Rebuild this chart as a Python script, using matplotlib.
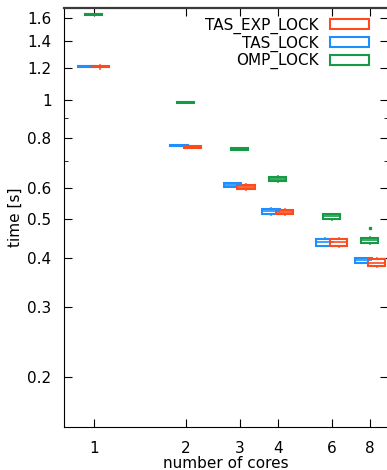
import numpy as np
import matplotlib.pyplot as plt
from matplotlib.patches import Patch
from matplotlib.ticker import FixedLocator, FixedFormatter, NullLocator

cores = [1, 2, 3, 4, 6, 8]
labels = ['TAS_EXP_LOCK', 'TAS_LOCK', 'OMP_LOCK']
colors = ['#ff4a1c', '#1e8fff', '#179a45']

# box statistics per lock type, one entry per core count (seconds)
exp_med = [1.213, 0.760, 0.602, 0.520, 0.437, 0.389]
exp_q1 = [1.209, 0.757, 0.595, 0.514, 0.428, 0.382]
exp_q3 = [1.216, 0.762, 0.610, 0.527, 0.446, 0.397]
exp_lo = [1.197, 0.756, 0.593, 0.512, 0.426, 0.380]
exp_hi = [1.222, 0.763, 0.612, 0.529, 0.448, 0.399]

tas_med = [1.212, 0.767, 0.610, 0.523, 0.439, 0.394]
tas_q1 = [1.210, 0.765, 0.603, 0.515, 0.429, 0.389]
tas_q3 = [1.214, 0.769, 0.616, 0.531, 0.447, 0.399]
tas_lo = [1.209, 0.764, 0.601, 0.513, 0.427, 0.388]
tas_hi = [1.215, 0.770, 0.617, 0.532, 0.449, 0.400]

omp_med = [1.634, 0.984, 0.750, 0.632, 0.508, 0.442]
omp_q1 = [1.630, 0.982, 0.746, 0.624, 0.501, 0.436]
omp_q3 = [1.638, 0.986, 0.754, 0.640, 0.514, 0.449]
omp_lo = [1.628, 0.981, 0.745, 0.622, 0.499, 0.434]
omp_hi = [1.640, 0.987, 0.755, 0.642, 0.516, 0.451]
omp_out = [[], [], [], [], [], [0.474]]

yticks = [0.2, 0.3, 0.4, 0.5, 0.6, 0.8, 1, 1.2, 1.4, 1.6]
ytick_labels = ['0.2', '0.3', '0.4', '0.5', '0.6', '0.8', '1', '1.2', '1.4', '1.6']


def make_stats(med, q1, q3, lo, hi, out=None):
    stats = []
    for i in range(len(med)):
        stats.append(dict(med=med[i], q1=q1[i], q3=q3[i], whislo=lo[i],
                          whishi=hi[i], fliers=out[i] if out else []))
    return stats


series = [make_stats(exp_med, exp_q1, exp_q3, exp_lo, exp_hi),
          make_stats(tas_med, tas_q1, tas_q3, tas_lo, tas_hi),
          make_stats(omp_med, omp_q1, omp_q3, omp_lo, omp_hi, omp_out)]
shift = [1.052, 0.952, 1.0]

fig = plt.figure(figsize=(3.87, 4.70), dpi=100)
ax = fig.add_axes([0.1654, 0.0915, 0.8372, 0.8915])
ax.set_xscale('log')
ax.set_yscale('log')

for k in range(3):
    pos = np.array(cores) * shift[k]
    c = colors[k]
    ax.bxp(series[k], positions=pos, widths=pos * 0.13, patch_artist=True,
           boxprops=dict(facecolor='white', edgecolor=c, linewidth=1.5),
           medianprops=dict(color=c, linewidth=1.2),
           whiskerprops=dict(color=c, linewidth=1.2),
           capprops=dict(linewidth=0),
           flierprops=dict(marker='s', markersize=2, markerfacecolor=c,
                           markeredgecolor=c),
           manage_ticks=False, zorder=3 - k * 0.1)

ax.set_xlim(0.8, 9.16)
ax.set_ylim(0.15, 1.7)
ax.xaxis.set_major_locator(FixedLocator(cores))
ax.xaxis.set_major_formatter(FixedFormatter([str(c) for c in cores]))
ax.xaxis.set_minor_locator(NullLocator())
ax.yaxis.set_major_locator(FixedLocator(yticks))
ax.yaxis.set_major_formatter(FixedFormatter(ytick_labels))
ax.yaxis.set_minor_locator(FixedLocator([0.7, 0.9]))
ax.yaxis.set_minor_formatter(FixedFormatter(['', '']))

ax.tick_params(which='both', direction='in', top=True, right=True,
               labelsize=11)
ax.tick_params(axis='x', pad=10)
ax.tick_params(axis='y', pad=9)
ax.tick_params(which='major', length=6)
ax.tick_params(which='minor', length=3)
ax.spines['top'].set_linewidth(1.6)
ax.spines['top'].set_color('#3a3a3a')

ax.set_xlabel('number of cores', fontsize=11, labelpad=0)
ax.set_ylabel('time [s]', fontsize=11, labelpad=3)

handles = [Patch(facecolor='white', edgecolor=c, linewidth=1.5) for c in colors]
ax.legend(handles, labels, loc='upper right', bbox_to_anchor=(0.966, 0.995),
          frameon=False, markerfirst=False, fontsize=11, borderpad=0,
          handlelength=2.6, handleheight=0.6, handletextpad=0.7,
          labelspacing=0.1)

fig.savefig('out.png', dpi=100)
